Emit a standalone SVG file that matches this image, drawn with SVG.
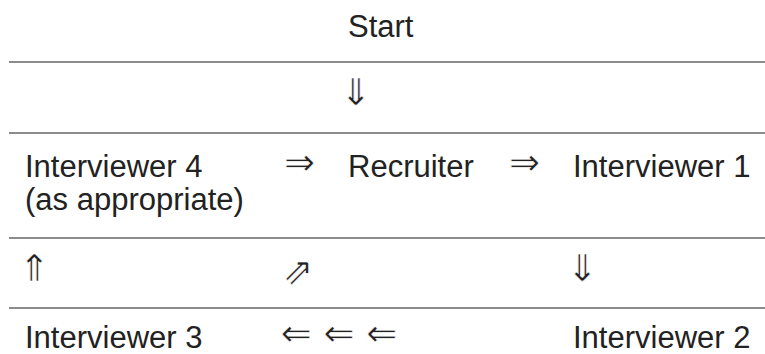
<svg xmlns="http://www.w3.org/2000/svg" width="765" height="354" viewBox="0 0 765 354">
<style>
.t{font-family:"Liberation Sans",Arial,Helvetica,sans-serif;font-size:31px;fill:#222}
.a{font-family:"DejaVu Sans","Liberation Sans",sans-serif;font-size:37px;fill:#222;text-anchor:middle;stroke:#fff;stroke-width:0.6px;paint-order:normal}
.rule{stroke:#8c8c8c;stroke-width:2;fill:none}
</style>
<rect width="765" height="354" fill="#fff"/>
<g id="rules">
<line class="rule" x1="9" y1="62" x2="765" y2="62"/>
<line class="rule" x1="9" y1="133" x2="765" y2="133"/>
<line class="rule" x1="9" y1="238" x2="765" y2="238"/>
<line class="rule" x1="9" y1="308" x2="765" y2="308"/>
</g>
<g id="start"><text class="t" x="348" y="37">Start</text></g>
<g id="interviewer4"><text class="t" x="25" y="177">Interviewer 4</text><text class="t" x="25" y="210">(as appropriate)</text></g>
<g id="recruiter"><text class="t" x="348" y="177">Recruiter</text></g>
<g id="interviewer1"><text class="t" x="573" y="177">Interviewer 1</text></g>
<g id="interviewer3"><text class="t" x="25" y="348">Interviewer 3</text></g>
<g id="interviewer2"><text class="t" x="573" y="348">Interviewer 2</text></g>
<g id="connectors">
<text class="a" x="355.5" y="105">⇓</text>
<text class="a" x="299.5" y="175" font-size="32">⇒</text>
<text class="a" x="524.5" y="175" font-size="32">⇒</text>
<text class="a" x="34" y="281">⇑</text>
<text class="a" x="298" y="284" font-size="48">⇗</text>
<text class="a" x="582" y="281">⇓</text>
<text class="a" x="339" y="346" font-size="32">⇐ ⇐ ⇐</text>
</g>
</svg>
